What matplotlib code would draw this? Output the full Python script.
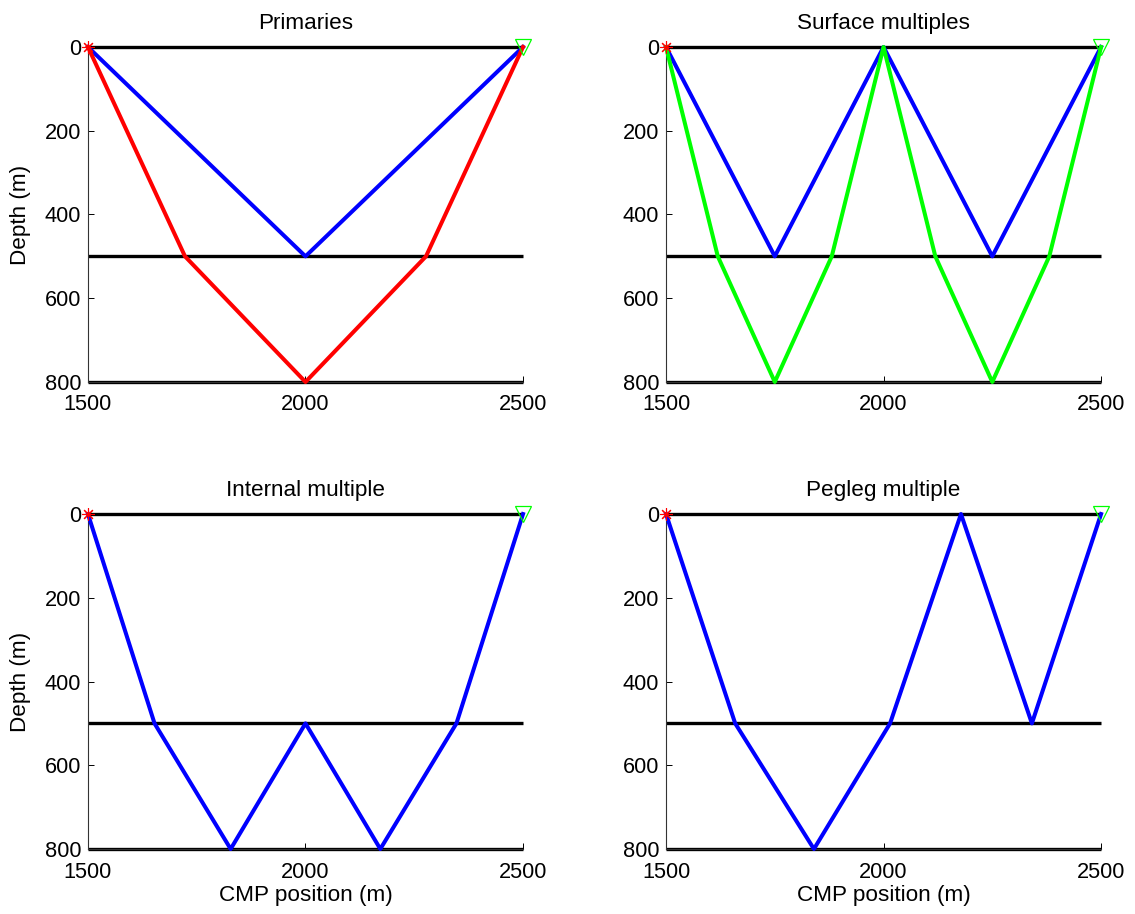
import numpy as np
import matplotlib
matplotlib.use("Agg")
import matplotlib.pyplot as plt

plt.rcParams['font.family'] = ['Liberation Sans', 'DejaVu Sans']
plt.rcParams['font.size'] = 15.7

# survey geometry
x_src = 1500
x_rec = 2500
reflectors = [0, 500, 800]

# ray paths: (CMP position, depth) for each event
prim_x1 = [1500, 2000, 2500]
prim_z1 = [0, 500, 0]
prim_x2 = [1500, 1723, 2000, 2277, 2500]
prim_z2 = [0, 500, 800, 500, 0]

surf_x1 = [1500, 1750, 2000, 2250, 2500]
surf_z1 = [0, 500, 0, 500, 0]
surf_x2 = [1500, 1619, 1750, 1881, 2000, 2119, 2250, 2381, 2500]
surf_z2 = [0, 500, 800, 500, 0, 500, 800, 500, 0]

int_x = [1500, 1653, 1828, 2000, 2172, 2347, 2500]
int_z = [0, 500, 800, 500, 800, 500, 0]

peg_x = [1500, 1659, 1840, 2015, 2178, 2341, 2500]
peg_z = [0, 500, 800, 500, 0, 500, 0]

x_ticks = [1500, 2000, 2500]
z_ticks = [0, 200, 400, 600, 800]

panels = [
    ("Primaries", [(prim_x1, prim_z1, 'b'), (prim_x2, prim_z2, 'r')]),
    ("Surface multiples", [(surf_x1, surf_z1, 'b'), (surf_x2, surf_z2, '#00ff00')]),
    ("Internal multiple", [(int_x, int_z, 'b')]),
    ("Pegleg multiple", [(peg_x, peg_z, 'b')]),
]

fig = plt.figure(figsize=(11.35, 9.14), dpi=100)

lefts = [0.0775, 0.5868]
bottoms = [0.5821, 0.0711]
w = 0.3833
h = 0.3665

for k, (title, rays) in enumerate(panels):
    row, col = divmod(k, 2)
    ax = fig.add_axes([lefts[col], bottoms[row], w, h])

    # reflectors
    for z in reflectors:
        ax.plot([x_src, x_rec], [z, z], color='k', lw=2.4, clip_on=False,
                solid_capstyle='butt', zorder=2)

    for xs, zs, c in rays:
        ax.plot(xs, zs, color=c, lw=2.9, clip_on=False, zorder=3)

    # source and receiver
    ax.plot(x_src, 0, marker=(8, 2, 0), color='r', ms=9, mew=0.8,
            clip_on=False, zorder=4)
    ax.plot(x_rec, 0, marker='v', mfc='none', mec='#00ff00', ms=11, mew=0.9,
            clip_on=False, zorder=4)

    ax.set_xlim(1500, 2500)
    ax.set_ylim(800, 0)
    ax.set_xticks(x_ticks)
    ax.set_yticks(z_ticks)
    ax.tick_params(direction='in', length=4, width=0.7)
    ax.tick_params(axis='x', pad=9)
    ax.tick_params(axis='y', pad=5)
    for side in ['top', 'right']:
        ax.spines[side].set_visible(False)
    for side in ['left', 'bottom']:
        ax.spines[side].set_linewidth(0.8)
        ax.spines[side].set_color('#333333')

    ax.set_title(title, pad=13, fontsize=16.2)
    if col == 0:
        ax.set_ylabel('Depth (m)', labelpad=10, fontsize=16.2)
    if row == 1:
        ax.set_xlabel('CMP position (m)', labelpad=2, fontsize=16.2)

fig.savefig('out.png', dpi=100)
